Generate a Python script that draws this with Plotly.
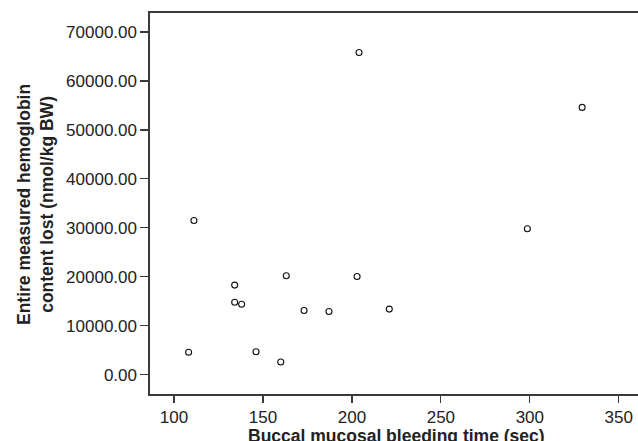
import plotly.graph_objects as go

bleeding_time_sec = [204.0, 329.4, 111.2, 298.6, 163.1, 202.9, 134.1, 134.1, 138.0,
                     173.1, 187.1, 221.0, 108.2, 146.1, 160.0]
hemoglobin_lost = [65800, 54600, 31500, 29800, 20200, 20050, 18300, 14800, 14400,
                   13100, 12900, 13400, 4600, 4700, 2600]

x_ticks = [100, 150, 200, 250, 300, 350]
y_ticks = [0, 10000, 20000, 30000, 40000, 50000, 60000, 70000]

x_title = "Buccal mucosal bleeding time (sec)"
y_title = "Entire measured hemoglobin<br>content lost (nmol/kg BW)"

FONT = "Liberation Sans, Arial, Helvetica, sans-serif"
AX = "#3a3a3a"

W, H = 638, 441
L, R, T, B = 150, 0, 13, 47
pw, ph = W - L - R, H - T - B

fig = go.Figure(go.Scatter(
    x=bleeding_time_sec, y=hemoglobin_lost, mode="markers",
    marker=dict(symbol="circle-open", size=6, color="#111", line=dict(width=1.1, color="#111")),
    showlegend=False, hoverinfo="x+y"))

fig.update_layout(
    width=W, height=H, margin=dict(l=L, r=R, t=T, b=B, pad=0),
    paper_bgcolor="white", plot_bgcolor="white",
    font=dict(family=FONT, size=17, color="#222"),
    xaxis=dict(range=[86.5, 360.8], tickvals=x_ticks, ticks="outside", ticklen=7,
               tickwidth=1.2, tickcolor=AX, showline=True, linecolor=AX, linewidth=1.6,
               mirror=True, showgrid=False, zeroline=False,
               tickfont=dict(family=FONT, size=17, color="#222")),
    yaxis=dict(range=[-3940, 73880], tickvals=y_ticks, tickformat=".2f", ticks="outside",
               ticklen=8, tickwidth=1.2, tickcolor=AX, showline=True, linecolor=AX,
               linewidth=1.6, mirror=False, showgrid=False, zeroline=False,
               tickfont=dict(family=FONT, size=17, color="#222")),
    annotations=[
        dict(text="<b>" + x_title + "</b>", xref="paper", yref="paper",
             x=(396.5 - L) / pw, y=(H - B - 424) / ph, xanchor="center", yanchor="top",
             showarrow=False, font=dict(family=FONT, size=17.5, color="#222")),
        dict(text="<b>" + y_title + "</b>", xref="paper", yref="paper",
             x=(35.5 - L) / pw, y=(H - B - 204.5) / ph, xanchor="center", yanchor="middle",
             textangle=-90, showarrow=False,
             font=dict(family=FONT, size=17.5, color="#222")),
    ],
)

fig.write_html(
    "out.html",
    config={"displayModeBar": False, "staticPlot": True},
    post_script="document.body.style.margin='0';document.body.style.overflow='hidden';",
)
